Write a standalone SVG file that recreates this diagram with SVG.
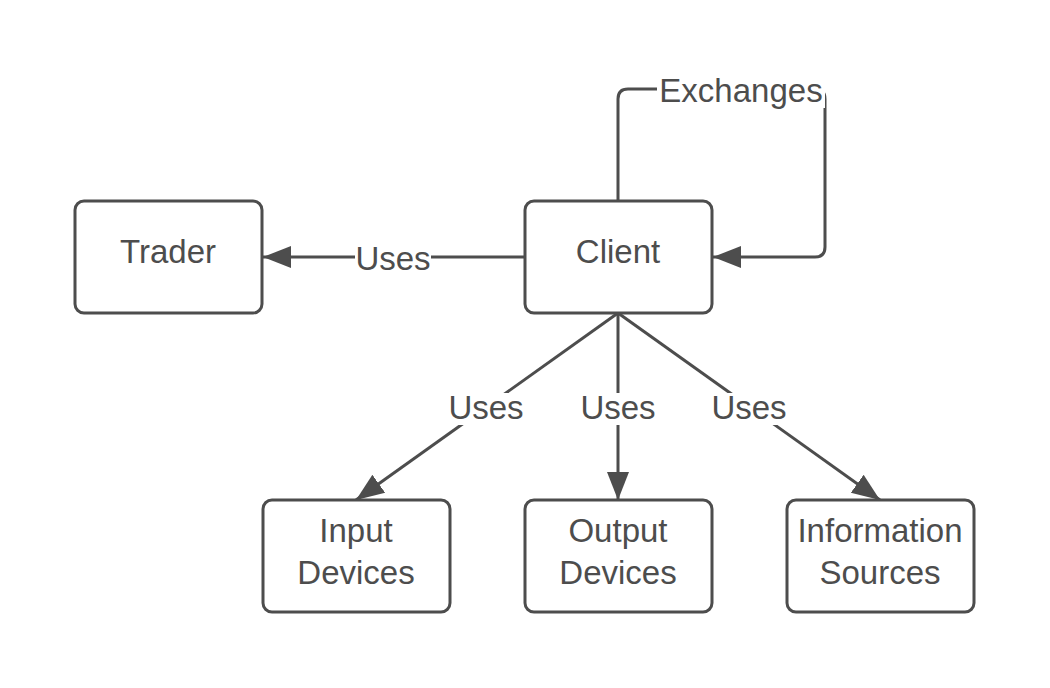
<svg xmlns="http://www.w3.org/2000/svg" width="1050" height="688" viewBox="0 0 1050 688">
<style>
.box{fill:#fff;stroke:#4d4d4d;stroke-width:3}
.t{font-family:"Liberation Sans",Arial,sans-serif;font-size:33px;fill:#4d4d4d;text-anchor:middle}
.l{font-family:"Liberation Sans",Arial,sans-serif;font-size:33px;fill:#4d4d4d;text-anchor:middle}
.c{fill:none;stroke:#4d4d4d;stroke-width:3}
.bg{fill:#fff}
</style>
<defs>
<marker id="arr" markerUnits="userSpaceOnUse" markerWidth="30" markerHeight="24" viewBox="0 0 30 24" refX="28" refY="12" orient="auto">
<path d="M0,1 L28,12 L0,23 Z" fill="#4d4d4d"/>
</marker>
</defs>
<rect width="1050" height="688" fill="#fff"/>
<g id="connectors">
<path class="c" d="M525,257 L263,257" marker-end="url(#arr)"/>
<path class="c" d="M618,201 L618,99 Q618,89 628,89 L815,89 Q825,89 825,99 L825,247 Q825,257 815,257 L713,257" marker-end="url(#arr)"/>
<path class="c" d="M618,313 L356,500" marker-end="url(#arr)"/>
<path class="c" d="M618,313 L618,500" marker-end="url(#arr)"/>
<path class="c" d="M618,313 L880,500" marker-end="url(#arr)"/>
<rect class="bg" x="355" y="242" width="76" height="32"/>
<text class="l" x="393" y="270">Uses</text>
<rect class="bg" x="657" y="74" width="168" height="34"/>
<text class="l" x="741" y="102">Exchanges</text>
<rect class="bg" x="448" y="393" width="76" height="32"/>
<text class="l" x="486" y="419">Uses</text>
<rect class="bg" x="580" y="393" width="76" height="32"/>
<text class="l" x="618" y="419">Uses</text>
<rect class="bg" x="711" y="393" width="76" height="32"/>
<text class="l" x="749" y="419">Uses</text>
</g>
<g id="trader">
<rect class="box" x="75" y="201" width="187" height="112" rx="9"/>
<text class="t" x="168" y="263">Trader</text>
</g>
<g id="client">
<rect class="box" x="525" y="201" width="187" height="112" rx="9"/>
<text class="t" x="618" y="263">Client</text>
</g>
<g id="input">
<rect class="box" x="263" y="500" width="187" height="112" rx="9"/>
<text class="t" x="356" y="542">Input</text>
<text class="t" x="356" y="584">Devices</text>
</g>
<g id="output">
<rect class="box" x="525" y="500" width="187" height="112" rx="9"/>
<text class="t" x="618" y="542">Output</text>
<text class="t" x="618" y="584">Devices</text>
</g>
<g id="info">
<rect class="box" x="787" y="500" width="187" height="112" rx="9"/>
<text class="t" x="880" y="542">Information</text>
<text class="t" x="880" y="584">Sources</text>
</g>
</svg>
